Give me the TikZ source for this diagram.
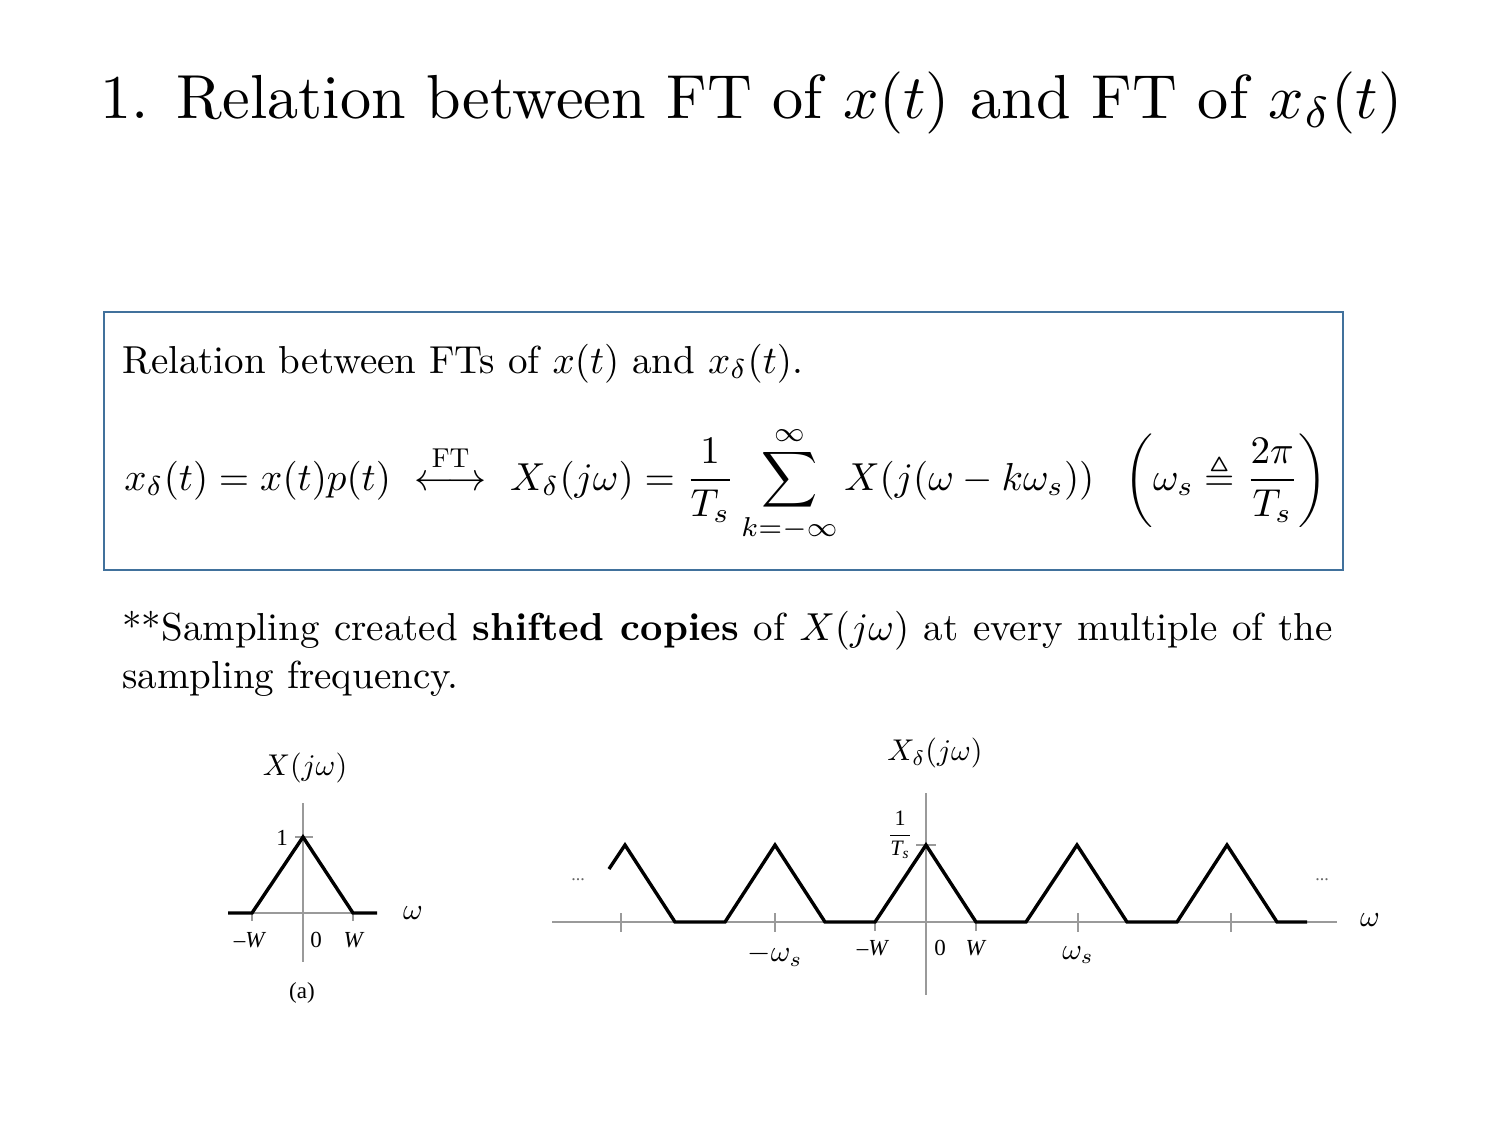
\documentclass[tikz,border=0pt]{standalone}
\usepackage{amsmath,amssymb,graphicx}
\usepackage{fontspec}
\setmainfont{lmroman10}[Extension=.otf, UprightFont=*-regular, BoldFont=*-bold, ItalicFont=*-italic, BoldItalicFont=*-bolditalic]
\newfontfamily\timesf{Liberation Serif}
\definecolor{boxc}{HTML}{41719C}
\definecolor{axc}{HTML}{9A9A9A}
\tikzset{
  axisline/.style={draw=axc, line width=0.8pt},
  sigline/.style={draw=black, line width=1.7pt, line join=miter},
  ticklabel/.style={font=\timesf\fontsize{11.5}{11.5}\selectfont, inner sep=0},
  mathlabel/.style={inner sep=0},
  dotlabel/.style={font=\timesf\fontsize{9}{9}\selectfont, text=black!60, inner sep=0},
  bodytext/.style={inner sep=0}
}
\newcommand{\bodysc}[1]{\scalebox{1.95}{#1}}
\newcommand{\labsc}[1]{\scalebox{1.5}{#1}}
\begin{document}
\begin{tikzpicture}[x=0.5pt,y=-0.5pt]
\useasboundingbox (0,0) rectangle (1500,1125);
% title
\node[anchor=base west, inner sep=0] (title) at (100,118)
  {\scalebox{3.11}{1.\hspace{0.45em}Relation between FT of $x(t)$ and FT of $x_\delta(t)$}};
% box
\node[draw=boxc, line width=0.8pt, minimum width=619.5pt, minimum height=129pt, inner sep=0, anchor=north west] (box) at (103,311) {};
\node[bodytext, anchor=base west] (rel) at (122,373)
  {\bodysc{Relation between FTs of $x(t)$ and $x_\delta(t)$.}};
\node[bodytext, anchor=base west] (eq) at (124,490)
  {\bodysc{$\displaystyle x_\delta(t)=x(t)p(t)\ \stackrel{\mathrm{FT}}{\longleftrightarrow}\ X_\delta(j\omega)=\frac{1}{T_s}\sum_{k=-\infty}^{\infty}X(j(\omega-k\omega_s))\hspace{6pt}\left(\omega_s\triangleq\frac{2\pi}{T_s}\right)$}};
% sampling text
\node[bodytext, anchor=base west] (samp) at (122,640)
  {\bodysc{\parbox[t]{310.26pt}{\fontsize{10}{12.31}\selectfont **Sampling created \textbf{shifted copies} of $X(j\omega)$ at every multiple of the\linebreak sampling frequency.}}};

% ---------- left plot ----------
\coordinate (La0) at (228,913);
\coordinate (La1) at (377,913);
\coordinate (Lv0) at (303,803);
\coordinate (Lv1) at (303,962);
\draw[axisline] (La0) -- (La1);
\draw[axisline] (Lv0) -- (Lv1);
\draw[axisline] (295,837) -- (313,837);
\draw[axisline] (252,913) -- (252,921);
\draw[axisline] (353,913) -- (353,921);
\draw[sigline] (228,913) -- (252,913) -- (303,837) -- (353,913) -- (377,913);
\node[mathlabel] (LX) at (305,768) {\labsc{$X(j\omega)$}};
\node[ticklabel] (Lone) at (282,838) {1};
\node[ticklabel] (LmW) at (250,940) {\textendash\textit{W}};
\node[ticklabel] (Lzero) at (316,940) {0};
\node[ticklabel] (LW) at (354,940) {\textit{W}};
\node[ticklabel] (La) at (302,993) {(a)};
\node[mathlabel] (Lom) at (413,913) {\labsc{$\omega$}};

% ---------- right plot ----------
\coordinate (Ra0) at (552,922);
\coordinate (Ra1) at (1337,922);
\coordinate (Rv0) at (926,793);
\coordinate (Rv1) at (926,995);
\draw[axisline] (Ra0) -- (Ra1);
\draw[axisline] (Rv0) -- (Rv1);
\draw[axisline] (916,845) -- (936,845);
\foreach \tx in {621,775,1078,1231} \draw[axisline] (\tx,913) -- (\tx,932);
\foreach \tx in {875,976} \draw[axisline] (\tx,922) -- (\tx,931);
\draw[sigline] (609,869) -- (625,845) -- (675,922) -- (725,922) -- (775,845) -- (825,922)
  -- (875,922) -- (926,845) -- (976,922) -- (1026,922) -- (1077,845) -- (1127,922)
  -- (1177,922) -- (1227,845) -- (1277,922) -- (1307,922);
\node[mathlabel] (RX) at (935,753) {\labsc{$X_\delta(j\omega)$}};
\node[inner sep=0, font=\timesf\fontsize{11}{11}\selectfont] (Rts) at (900,835)
  {$\dfrac{\text{\timesf 1}}{\text{\timesf\itshape T}_{\text{\timesf\itshape s}}}$};
\node[ticklabel] (RmW) at (873,948) {\textendash\textit{W}};
\node[ticklabel] (Rzero) at (940,948) {0};
\node[ticklabel] (RW) at (976,948) {\textit{W}};
\node[mathlabel] (Rmws) at (775,955) {\labsc{$-\omega_s$}};
\node[mathlabel] (Rws) at (1078,955) {\labsc{$\omega_s$}};
\node[mathlabel] (Rom) at (1370,920) {\labsc{$\omega$}};
\node[dotlabel] (Rd1) at (578,880) {...};
\node[dotlabel] (Rd2) at (1322,880) {...};
\end{tikzpicture}
\end{document}
